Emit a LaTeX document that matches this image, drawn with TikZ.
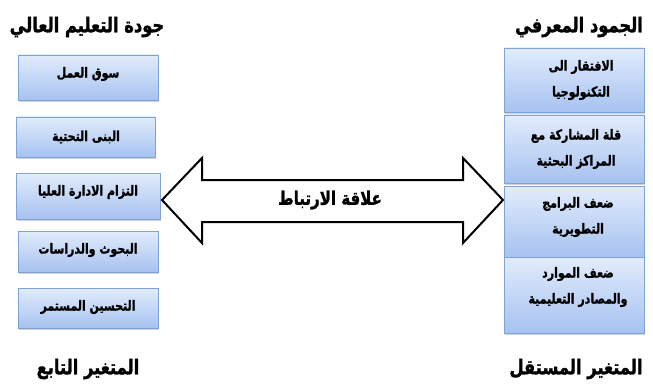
\documentclass[tikz,border=0pt]{standalone}
\usepackage{fontspec}
\usepackage{graphicx}
\setmainfont{DejaVu Sans}
\newfontfamily\arabicfont[Script=Arabic,FakeBold=1.5]{DejaVu Sans}
\TeXXeTstate=1
\usetikzlibrary{shadows}
\newcommand{\ar}[1]{\scalebox{1}[1.25]{\beginR #1\endR}}
\begin{document}
\begin{tikzpicture}[x=1pt,y=-1pt,
  box/.style={draw=boxborder, line width=0.9pt, top color=boxtop, bottom color=boxbot,
    drop shadow={opacity=0.35, shadow xshift=1.2pt, shadow yshift=-1.8pt}, inner sep=0pt},
  txt/.style={font=\arabicfont\bfseries\fontsize{11}{26}\selectfont, align=center, text=black},
  ttl/.style={font=\arabicfont\bfseries\fontsize{16.3}{19}\selectfont, text=black}]
\definecolor{boxtop}{HTML}{E2ECFC}
\definecolor{boxbot}{HTML}{A6C2F0}
\definecolor{boxborder}{HTML}{7FA3D8}
\useasboundingbox (0,0) rectangle (653,385);
\fill[white] (0,0) rectangle (653,385);
% left column
\node[box, minimum width=140pt, minimum height=45pt] (l1) at (88,77.5) {};
\node[box, minimum width=139pt, minimum height=40pt] (l2) at (85.5,137) {};
\node[box, minimum width=144pt, minimum height=46pt] (l3) at (88,196) {};
\node[box, minimum width=140pt, minimum height=41pt] (l4) at (88,251.5) {};
\node[box, minimum width=140pt, minimum height=40pt] (l5) at (88,308) {};
\node[txt] (t1) at (88,74) {\ar{سوق العمل}};
\node[txt] (t2) at (86,137) {\ar{البنى التحتية}};
\node[txt] (t3) at (88,192) {\ar{التزام الادارة العليا}};
\node[txt] (t4) at (88,250) {\ar{البحوث والدراسات}};
\node[txt] (t5) at (88,307) {\ar{التحسين المستمر}};
\node[ttl] (lt) at (87,27) {\ar{جودة التعليم العالي}};
\node[ttl] (lb) at (88,369) {\ar{المتغير التابع}};
% right column
\node[box, minimum width=140pt, minimum height=64pt] (r1) at (574,80) {};
\node[box, minimum width=140pt, minimum height=68pt] (r2) at (574,149) {};
\node[box, minimum width=140pt, minimum height=71pt] (r3) at (574,221.5) {};
\node[box, minimum width=140pt, minimum height=76pt] (r4) at (574,295) {};
\node[txt] (s1) at (581,80) {\ar{الافتقار الى}\\\ar{التكنولوجيا}};
\node[txt] (s2) at (576,149) {\ar{قلة المشاركة مع}\\\ar{المراكز البحثية}};
\node[txt] (s3) at (578,217) {\ar{ضعف البرامج}\\\ar{التطويرية}};
\node[txt] (s4) at (578,287) {\ar{ضعف الموارد}\\\ar{والمصادر التعليمية}};
\node[ttl] (rt) at (579,27) {\ar{الجمود المعرفي}};
\node[ttl] (rb) at (576,369) {\ar{المتغير المستقل}};
% double arrow
\coordinate (al) at (162,200);
\coordinate (ar) at (503,200);
\draw[line width=2pt, line join=miter, fill=white]
  (al) -- (202,158) -- (202,180) -- (463,180) -- (463,158) -- (ar)
  -- (463,243) -- (463,222) -- (202,222) -- (202,243) -- cycle;
\node[font=\arabicfont\bfseries\fontsize{15}{18}\selectfont] (rel) at (330,200) {\ar{علاقة الارتباط}};
\end{tikzpicture}
\end{document}
